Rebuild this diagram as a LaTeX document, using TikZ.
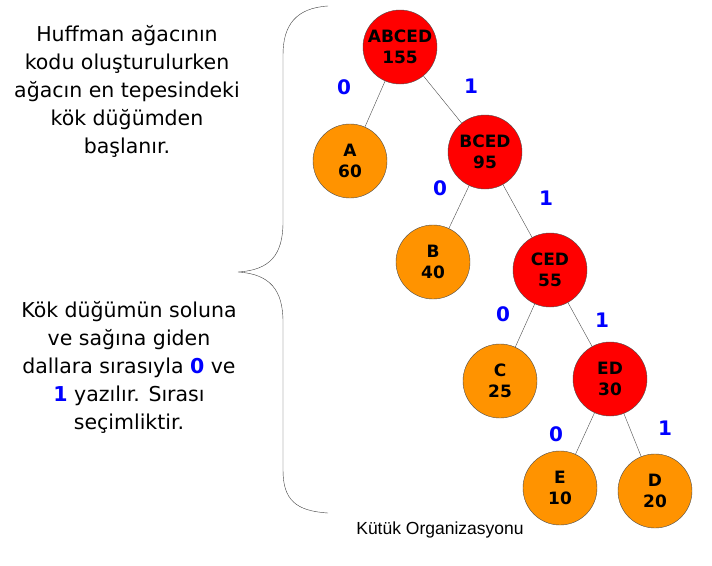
\documentclass[tikz,border=0pt]{standalone}
\usepackage{fontspec}
\setmainfont{DejaVu Sans}
\newfontfamily\capfont{Liberation Sans}
\usetikzlibrary{calc}

\begin{document}
\begin{tikzpicture}[x=1pt,y=-1pt,
  knot/.style={circle,draw=black!70,minimum size=74pt,inner sep=0pt,align=center,font=\fontsize{17}{21}\selectfont\bfseries},
  inner/.style={knot,fill=red},
  leaf/.style={knot,fill=orange!85!yellow},
  branch/.style={draw=black!70,thin},
  bit/.style={text=blue,font=\fontsize{20}{22}\selectfont\bfseries},
  note/.style={align=center,font=\fontsize{20.5}{28}\selectfont}]
\useasboundingbox (0,0) rectangle (712,565);
% tree
\node[inner] (abced) at (400,47) {ABCED\\155};
\node[leaf] (a) at (350,161) {A\\60};
\node[inner] (bced) at (485,152) {BCED\\95};
\node[leaf] (b) at (433,262) {B\\40};
\node[inner] (ced) at (550,270) {CED\\55};
\node[leaf] (c) at (500,381) {C\\25};
\node[inner] (ed) at (610,379) {ED\\30};
\node[leaf] (e) at (560,488) {E\\10};
\node[leaf] (d) at (655,491) {D\\20};
\draw[branch] (abced)--(a); \draw[branch] (abced)--(bced);
\draw[branch] (bced)--(b); \draw[branch] (bced)--(ced);
\draw[branch] (ced)--(c); \draw[branch] (ced)--(ed);
\draw[branch] (ed)--(e); \draw[branch] (ed)--(d);
% bits
\node[bit] (z1) at (344,87) {0}; \node[bit] (o1) at (471,86) {1};
\node[bit] (z2) at (440,188) {0}; \node[bit] (o2) at (546,198) {1};
\node[bit] (z3) at (503,314) {0}; \node[bit] (o3) at (602,320) {1};
\node[bit] (z4) at (556,434) {0}; \node[bit] (o4) at (665,428) {1};
% brace
\draw[black!75] (328,6) .. controls (296,8) and (283,25) .. (283,55) -- (283,222)
  .. controls (283,255) and (270,270) .. (238,272)
  .. controls (270,274) and (283,290) .. (283,322) -- (283,470)
  .. controls (283,500) and (296,511) .. (328,513);
% notes
\node[note] (top) at (127,91) {Huffman ağacının\\kodu oluşturulurken\\ağacın en tepesindeki\\kök düğümden\\başlanır.};
\node[note] (bottom) at (129,367) {Kök düğümün soluna\\ve sağına giden\\dallara sırasıyla \textcolor{blue}{\bfseries 0} ve\\\textcolor{blue}{\bfseries 1} yazılır. Sırası\\seçimliktir.};
\node[font=\capfont\fontsize{17.5}{19}\selectfont] (cap) at (440,530) {Kütük Organizasyonu};
\end{tikzpicture}
\end{document}
